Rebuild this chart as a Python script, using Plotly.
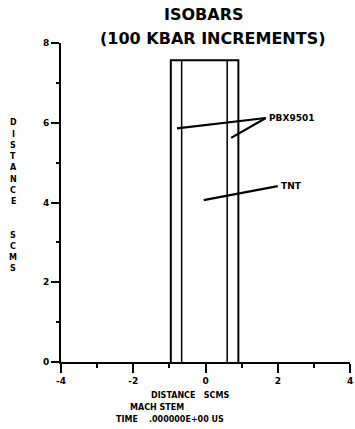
import plotly.graph_objects as go

# Data (cm)
outer_x = [-0.96, -0.96, 0.91, 0.91]
outer_y = [0.0, 7.57, 7.57, 0.0]
inner_left_x = [-0.66, -0.66]
inner_right_x = [0.60, 0.60]
inner_y = [0.0, 7.57]

pbx_leader1_x = [-0.79, 1.67]
pbx_leader1_y = [5.86, 6.12]
pbx_leader2_x = [0.71, 1.67]
pbx_leader2_y = [5.62, 6.12]
tnt_leader_x = [-0.05, 2.0]
tnt_leader_y = [4.06, 4.41]

x_ticks = [-4, -2, 0, 2, 4]
y_ticks = [0, 2, 4, 6, 8]

FONT = "DejaVu Sans"
BLACK = "#000000"
NB = "\u00a0"

fig = go.Figure()
fig.add_trace(go.Scatter(x=outer_x, y=outer_y, mode="lines",
                         line=dict(color=BLACK, width=2), hoverinfo="skip"))
fig.add_trace(go.Scatter(x=inner_left_x, y=inner_y, mode="lines",
                         line=dict(color=BLACK, width=1.5), hoverinfo="skip"))
fig.add_trace(go.Scatter(x=inner_right_x, y=inner_y, mode="lines",
                         line=dict(color=BLACK, width=1.5), hoverinfo="skip"))
for lx, ly in [(pbx_leader1_x, pbx_leader1_y), (pbx_leader2_x, pbx_leader2_y),
               (tnt_leader_x, tnt_leader_y)]:
    fig.add_trace(go.Scatter(x=lx, y=ly, mode="lines",
                             line=dict(color=BLACK, width=2.2), hoverinfo="skip"))

fig.add_annotation(x=pbx_leader1_x[1], y=pbx_leader1_y[1], text="PBX9501",
                   showarrow=False, xanchor="left", yanchor="middle", xshift=1,
                   font=dict(family=FONT, size=9, color=BLACK, weight="bold"))
fig.add_annotation(x=tnt_leader_x[1], y=tnt_leader_y[1], text="TNT",
                   showarrow=False, xanchor="left", yanchor="middle", xshift=1,
                   font=dict(family=FONT, size=9, color=BLACK, weight="bold"))

# Titles
fig.add_annotation(xref="paper", yref="paper", x=(205 - 61) / 292, y=1 + (43 - 15) / 319,
                   text="ISOBARS", showarrow=False, xanchor="center", yanchor="middle",
                   font=dict(family=FONT, size=16, color=BLACK, weight="bold"))
fig.add_annotation(xref="paper", yref="paper", x=(214 - 61) / 292, y=1 + (43 - 39) / 319,
                   text="(100 KBAR INCREMENTS)", showarrow=False, xanchor="center",
                   yanchor="middle",
                   font=dict(family=FONT, size=16, color=BLACK, weight="bold"))

# Bottom labels
for txt, cx, cy in [("DISTANCE" + NB * 3 + "SCMS", 191, 396), ("MACH STEM", 158, 407),
                    ("TIME" + NB * 4 + ".000000E+00 US", 171, 419)]:
    fig.add_annotation(xref="paper", yref="paper", x=(cx - 61) / 292,
                       y=-(cy - 362) / 319, text=txt, showarrow=False,
                       xanchor="center", yanchor="middle",
                       font=dict(family=FONT, size=8, color=BLACK, weight="bold"))

# Vertical y title (stacked letters)
ytitle = "DISTANCE  SCMS"
for i, ch in enumerate(ytitle):
    if ch == " ":
        continue
    py = 123 + i * 11.2
    fig.add_annotation(xref="paper", yref="paper", x=(13 - 61) / 292,
                       y=(362 - py) / 319, text=ch, showarrow=False,
                       xanchor="center", yanchor="middle",
                       font=dict(family=FONT, size=8, color=BLACK, weight="bold"))

fig.update_layout(
    width=355, height=429,
    margin=dict(l=61, r=2, t=43, b=67),
    paper_bgcolor="white", plot_bgcolor="white",
    showlegend=False,
    xaxis=dict(range=[-4, 4], tickvals=x_ticks, ticktext=[str(v) for v in x_ticks],
               showgrid=False, zeroline=False, showline=True, linecolor=BLACK,
               linewidth=2, ticks="outside", ticklen=9, tickwidth=2, tickcolor=BLACK,
               ticklabeloverflow="allow",
               minor=dict(dtick=1, tick0=-4, ticks="outside", ticklen=4, tickwidth=1.5,
                          tickcolor=BLACK, showgrid=False),
               tickfont=dict(family=FONT, size=9, color=BLACK, weight="bold"),
               fixedrange=True),
    yaxis=dict(range=[0, 8], tickvals=y_ticks, ticktext=[str(v) for v in y_ticks],
               showgrid=False, zeroline=False, showline=True, linecolor=BLACK,
               linewidth=2, ticks="outside", ticklen=8, tickwidth=2, tickcolor=BLACK,
               minor=dict(dtick=1, tick0=0, ticks="outside", ticklen=3, tickwidth=1.5,
                          tickcolor=BLACK, showgrid=False),
               tickfont=dict(family=FONT, size=9, color=BLACK, weight="bold"),
               fixedrange=True),
)

fig.write_html("out.html")
